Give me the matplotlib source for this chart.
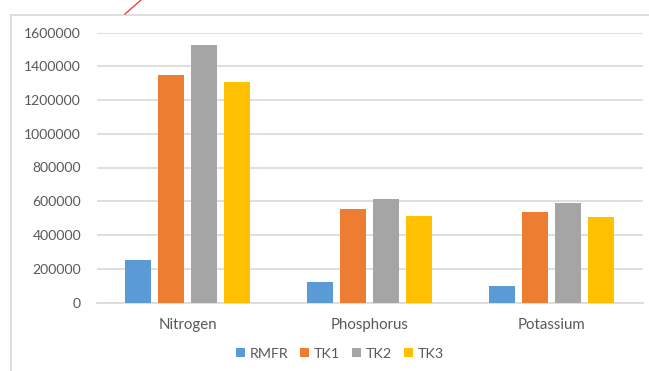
import matplotlib
matplotlib.use("Agg")
import matplotlib.pyplot as plt
from matplotlib.lines import Line2D
import numpy as np

plt.rcParams['font.family'] = ['Lato', 'DejaVu Sans']

categories = ["Nitrogen", "Phosphorus", "Potassium"]
series_names = ["RMFR", "TK1", "TK2", "TK3"]
rmfr = [249000, 123000, 98000]
tk1 = [1350000, 552000, 534000]
tk2 = [1523000, 613000, 591000]
tk3 = [1307000, 514000, 508000]
yticks = [0, 200000, 400000, 600000, 800000, 1000000, 1200000, 1400000, 1600000]

colors = ["#5B9BD5", "#ED7D31", "#A5A5A5", "#FFC000"]
series = [rmfr, tk1, tk2, tk3]

W, H = 649, 371
fig = plt.figure(figsize=(W / 100, H / 100), dpi=100)
fig.patch.set_facecolor("white")

left, right = 96.5 / W, 642.5 / W
bottom, top = 1 - 302.5 / H, 1 - 32.5 / H
ax = fig.add_axes([left, bottom, right - left, top - bottom])

x = np.arange(len(categories))
bar_w = 26 / 182
pitch = 33 / 182
for i, (name, vals, c) in enumerate(zip(series_names, series, colors)):
    offs = (i - 1.5) * pitch
    ax.bar(x + offs, vals, width=bar_w, color=c, label=name, zorder=3)

ax.set_xlim(-0.5, len(categories) - 0.5)
ax.set_ylim(0, 1600000)
ax.set_yticks(yticks)
ax.set_yticklabels([str(v) for v in yticks])
ax.set_xticks(x)
ax.set_xticklabels(categories, fontsize=10.8)
ax.grid(axis="y", color="#d9d9d9", linewidth=1.2, zorder=0)
ax.set_axisbelow(True)
for s in ["top", "right", "left"]:
    ax.spines[s].set_visible(False)
ax.spines["bottom"].set_color("#d9d9d9")
ax.spines["bottom"].set_linewidth(1.2)
ax.tick_params(axis="both", length=0, colors="#595959")
ax.tick_params(axis="y", pad=11, labelsize=10.1)
ax.tick_params(axis="x", pad=11.5)

fig.legend(loc="center", bbox_to_anchor=(340 / W, 1 - 354 / H), ncol=4,
           frameon=False, fontsize=10.3, labelcolor="#595959",
           handlelength=0.6, handleheight=0.6, handletextpad=0.35,
           columnspacing=0.85, borderaxespad=0)

# chart area frame (left and top edges)
frame_c = "#d9d9d9"
fig.add_artist(Line2D([11 / W, 11 / W], [0, 1 - 14.5 / H], transform=fig.transFigure,
                      color=frame_c, linewidth=1.2))
fig.add_artist(Line2D([11 / W, 1], [1 - 14.5 / H, 1 - 14.5 / H], transform=fig.transFigure,
                      color=frame_c, linewidth=1.2))
# small red stroke at the top edge
fig.add_artist(Line2D([125 / W, 141 / W], [1 - 14 / H, 1.0], transform=fig.transFigure,
                      color="#e8413c", linewidth=1.0))

fig.savefig("out.png", dpi=100, facecolor="white")
